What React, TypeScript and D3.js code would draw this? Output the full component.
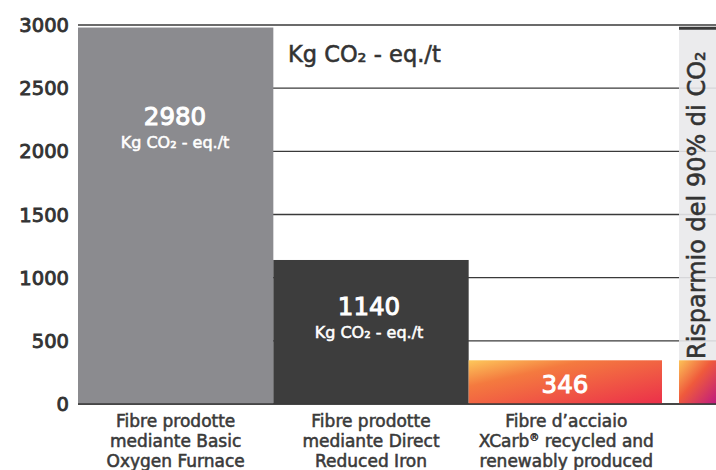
import React from "react";
import * as d3 from "d3";

const categories = [
  ["Fibre prodotte", "mediante Basic", "Oxygen Furnace"],
  ["Fibre prodotte", "mediante Direct", "Reduced Iron"],
  ["Fibre d\u2019acciaio", "XCarb\u00AE recycled and", "renewably produced"],
];
const values = [2980, 1140, 346];
const valueLabels = ["2980", "1140", "346"];
const yTicks = [0, 500, 1000, 1500, 2000, 2500, 3000];
const unitLabel = "Kg CO\u2082 - eq./t";
const savingLabel = "Risparmio del 90% di CO\u2082";

const W = 716;
const H = 470;
const FONT = "'DejaVu Sans', sans-serif";

function renderLine(l: string) {
  const idx = l.indexOf("\u00AE");
  if (idx < 0) return l;
  return (
    <>
      {l.slice(0, idx)}
      <tspan fontSize={10} dy={-6}>{"\u00AE"}</tspan>
      <tspan dy={6}>{l.slice(idx + 1)}</tspan>
    </>
  );
}

export default function App() {
  const y = d3.scaleLinear().domain([0, 3000]).range([404, 25]);
  const x = d3.scaleBand<number>().domain([0, 1, 2]).range([78, 664]).paddingInner(0).paddingOuter(0);
  const panelX = 679;
  const dark = "#333333";
  const fills = ["#8b8b8f", "#3d3d3d", "url(#g3)"];
  const semi = (c: string, w = 0.55) => ({ fill: c, stroke: c, strokeWidth: w });

  return (
    <svg width={W} height={H} style={{ position: "absolute", left: 0, top: 0, fontFamily: FONT }}>
      <defs>
        <linearGradient id="g3" x1="0" y1="0" x2="1" y2="1">
          <stop offset="0" stopColor="#fdc85b" />
          <stop offset="0.3" stopColor="#f47a3f" />
          <stop offset="1" stopColor="#eb2f4a" />
        </linearGradient>
        <linearGradient id="gp" x1="0" y1="0" x2="1" y2="1">
          <stop offset="0" stopColor="#fcc257" />
          <stop offset="0.45" stopColor="#ef5a3c" />
          <stop offset="1" stopColor="#bf1a80" />
        </linearGradient>
      </defs>
      <rect x={0} y={0} width={W} height={H} fill="#ffffff" />
      {/* right panel */}
      <rect x={panelX} y={y(2975)} width={W - panelX} height={y(346) - y(2975)} fill="#ebebed" />
      {/* gridlines */}
      {yTicks.map((t) => (
        <g key={t}>
          <line x1={78} x2={panelX} y1={y(t)} y2={y(t)} stroke="#3a3a3a" strokeWidth={1.4} />
          <line
            x1={panelX}
            x2={W}
            y1={y(t)}
            y2={y(t)}
            stroke={t === 3000 || t === 0 ? "#3a3a3a" : "#d6d6d9"}
            strokeWidth={1.4}
          />
          <text
            x={69}
            y={y(t)}
            dy="0.36em"
            textAnchor="end"
            fontSize={19.5}
            {...semi(dark, 0.9)}
          >
            {t}
          </text>
        </g>
      ))}
      <line x1={panelX} x2={W} y1={y(2975)} y2={y(2975)} stroke="#3a3a3a" strokeWidth={3} />
      {/* panel gradient bar */}
      <rect x={panelX} y={y(346)} width={W - panelX} height={y(0) - y(346)} fill="url(#gp)" />
      {/* bars */}
      {values.map((v, i) => {
        const bx = x(i)!;
        const bw = i === 2 ? 662 - bx : x.bandwidth();
        return <rect key={i} x={bx} y={y(v)} width={bw} height={y(0) - y(v)} fill={fills[i]} />;
      })}
      <line x1={78} x2={W} y1={y(0)} y2={y(0)} stroke="#3a3a3a" strokeWidth={1.4} />
      {/* value labels */}
      <text x={175} y={125} textAnchor="middle" fontSize={24.5} {...semi("#fff", 1)}>
        {valueLabels[0]}
      </text>
      <text x={175} y={148} textAnchor="middle" fontSize={16} {...semi("#fff")}>
        {unitLabel}
      </text>
      <text x={369} y={315} textAnchor="middle" fontSize={24.5} {...semi("#fff", 1)}>
        {valueLabels[1]}
      </text>
      <text x={369} y={338} textAnchor="middle" fontSize={16} {...semi("#fff")}>
        {unitLabel}
      </text>
      <text x={565} y={393} textAnchor="middle" fontSize={24.5} {...semi("#fff", 1)}>
        {valueLabels[2]}
      </text>
      {/* unit legend */}
      <text x={288} y={62} fontSize={22.5} {...semi(dark)}>
        {unitLabel}
      </text>
      {/* vertical saving label */}
      <text transform={`translate(705, 359) rotate(-90)`} fontSize={24} {...semi(dark)}>
        {savingLabel}
      </text>
      {/* category labels */}
      {categories.map((lines, i) => (
        <text
          key={i}
          x={x(i)! + x.bandwidth() / 2}
          y={427}
          textAnchor="middle"
          fontSize={17}
          {...semi("#3a3a3a")}
        >
          {lines.map((l, j) => (
            <tspan key={j} x={x(i)! + x.bandwidth() / 2} y={427 + j * 20}>
              {renderLine(l)}
            </tspan>
          ))}
        </text>
      ))}
    </svg>
  );
}
